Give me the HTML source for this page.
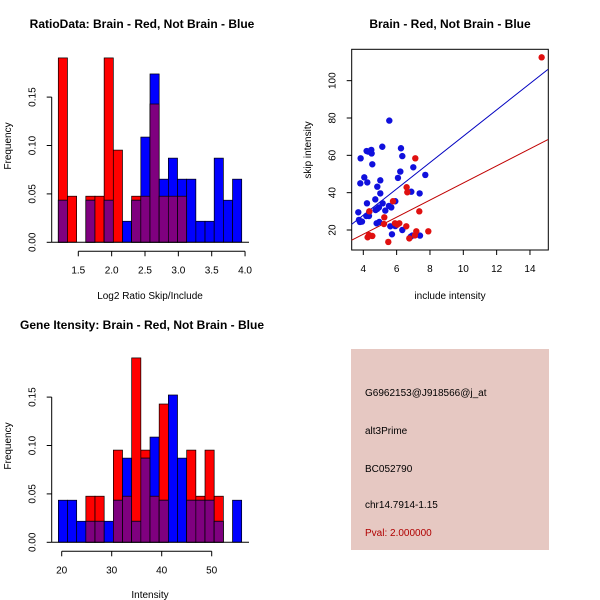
<!DOCTYPE html>
<html><head><meta charset="utf-8"><style>
body{margin:0;background:#fff}
svg{display:block;font-family:"Liberation Sans",Arial,sans-serif}
</style></head><body>
<svg id="c" width="600" height="600" viewBox="0 0 600 600" xmlns="http://www.w3.org/2000/svg">
<text x="142" y="28" font-size="12" font-weight="bold" text-anchor="middle">RatioData: Brain - Red, Not Brain - Blue</text>
<text x="450" y="28" font-size="12" font-weight="bold" text-anchor="middle">Brain - Red, Not Brain - Blue</text>
<text x="142" y="329" font-size="12" font-weight="bold" text-anchor="middle">Gene Itensity: Brain - Red, Not Brain - Blue</text>
<text x="150" y="299" font-size="10" text-anchor="middle">Log2 Ratio Skip/Include</text>
<text transform="translate(11,146) rotate(-90)" font-size="10" text-anchor="middle">Frequency</text>
<text x="150" y="598" font-size="10" text-anchor="middle">Intensity</text>
<text transform="translate(11,446) rotate(-90)" font-size="10" text-anchor="middle">Frequency</text>
<text x="450" y="299" font-size="10" text-anchor="middle">include intensity</text>
<text transform="translate(311,150) rotate(-90)" font-size="10" text-anchor="middle">skip intensity</text>
<g>
<rect x="351" y="349" width="198" height="201" fill="#e6c8c2"/>
<text x="365" y="396" font-size="10">G6962153@J918566@j_at</text>
<text x="365" y="434" font-size="10">alt3Prime</text>
<text x="365" y="472" font-size="10">BC052790</text>
<text x="365" y="508" font-size="10">chr14.7914-1.15</text>
<text x="365" y="536" font-size="10" fill="#b00000">Pval: 2.000000</text>
</g>
<g id="h1"></g><g id="h2"></g><g id="sc"></g>
</svg>
<script>
// Ratio histogram (counts per bin; red n=21, blue n=46)
const ratioRed  = [4,1,0,1,1,4,2,0,1,1,3,1,1,1,0,0,0,0,0,0];
const ratioBlue = [2,0,0,2,0,2,0,1,2,5,8,3,4,3,3,1,1,4,2,3];
const ratioTicks = [1.5,2.0,2.5,3.0,3.5,4.0];
// Intensity histogram
const intRed  = [0,0,0,1,1,0,2,1,4,2,1,3,0,0,2,1,2,1,0,0];
const intBlue = [2,2,1,1,1,1,2,4,1,4,5,2,7,4,2,2,2,1,0,2];
const intTicks = [20,30,40,50];
const freqTicks = [0.00,0.05,0.10,0.15];
// Scatter
const blueX=[3.84,4.48,4.3,4.5,4.2,5.14,5.56,6.26,6.34,4.54,4.06,3.82,4.24,4.84,5.02,6.22,6.08,7.0,7.72,5.02,6.88,7.38,4.72,4.22,5.16,5.92,5.54,5.68,4.94,4.84,4.74,5.32,4.36,3.7,4.18,4.34,3.74,3.92,3.8,4.96,4.8,5.62,5.92,5.92,6.34,5.72,6.94,7.4,6.84];
const blueY=[58.4,62.9,62,61,62.3,64.6,78.6,63.8,59.6,55.2,48.2,45,45.5,43.2,46.6,51.3,47.9,53.6,49.5,39.6,40.5,39.6,36.4,34.3,34.3,35.4,32.9,32.1,32.1,31.3,30.7,30.4,29.8,29.5,27.5,27.5,25.4,24.5,24.3,24.3,23.6,22,22.9,22.1,20,17.7,17,17,16.4];
const redX=[14.7,7.12,6.6,6.64,5.78,7.36,4.36,5.26,5.24,5.9,6.04,6.58,7.18,7.9,7.1,6.76,4.34,4.54,4.26,5.5,6.16];
const redY=[112.5,58.4,42.9,40.2,35.4,30,30,26.8,23.2,23.6,22.9,22,19.3,19.3,17.1,15.5,17.3,16.8,16.1,13.6,23.6];
const fitBlue=[-0.26,7.05], fitRed=[-0.6,4.58];
const sxTicks=[4,6,8,10,12,14], syTicks=[20,40,60,80,100];

const NS="http://www.w3.org/2000/svg";
function mk(p,t,a){const e=document.createElementNS(NS,t);for(const k in a)e.setAttribute(k,a[k]);p.appendChild(e);return e;}

function hist(g,red,blue,x0v,bw,xS,y0,ticks,name){
  const yS=v=>y0-v*968;
  const nr=red.reduce((a,b)=>a+b,0), nb=blue.reduce((a,b)=>a+b,0);
  const ax=51.7;
  for(let i=0;i<red.length;i++){
    const fr=red[i]/nr, fb=blue[i]/nb;
    const xa=xS(x0v+i*bw), xb=xS(x0v+(i+1)*bw);
    if(fr>0){const r=mk(g,'rect',{x:xa,y:yS(fr),width:xb-xa,height:y0-yS(fr),fill:'#ff0000',stroke:'#000','stroke-width':0.7});
      
      }
    if(fb>0){const r=mk(g,'rect',{x:xa,y:yS(fb),width:xb-xa,height:y0-yS(fb),fill:'#0000ff',stroke:'#000','stroke-width':0.7});
      
      }
    const m=Math.min(fr,fb);
    if(m>0){const r=mk(g,'rect',{x:xa,y:yS(m),width:xb-xa,height:y0-yS(m),fill:'#7f007f',stroke:'#000','stroke-width':0.7});
      
      }
  }
  mk(g,'line',{x1:ax,x2:249,y1:y0,y2:y0,stroke:'#000'});
  mk(g,'line',{x1:ax,x2:ax,y1:yS(0),y2:yS(0.15),stroke:'#000'});
  freqTicks.forEach(v=>{const y=yS(v);mk(g,'line',{x1:ax-5,x2:ax,y1:y,y2:y,stroke:'#000'});
    const t=mk(g,'text',{transform:`translate(${ax-16},${y}) rotate(-90)`,'font-size':10,'text-anchor':'middle'});t.textContent=v.toFixed(2);
    
    });
  const xa=y0+9;
  mk(g,'line',{x1:xS(ticks[0]),x2:xS(ticks[ticks.length-1]),y1:xa,y2:xa,stroke:'#000'});
  ticks.forEach(v=>{const x=xS(v);mk(g,'line',{x1:x,x2:x,y1:xa,y2:xa+5,stroke:'#000'});
    const t=mk(g,'text',{x:x,y:xa+22,'font-size':10,'text-anchor':'middle'});t.textContent=Number.isInteger(v)&&v>=10?v:v.toFixed(1);
    
    });
}
hist(document.getElementById('h1'),ratioRed,ratioBlue,1.2,0.1375,v=>78.3+(v-1.5)*66.7,242.3,ratioTicks,'ratio');
hist(document.getElementById('h2'),intRed,intBlue,19.33,1.8333,v=>61.7+(v-20)*5,542.3,intTicks,'intensity');

(function(){
  const g=document.getElementById('sc');
  const X=v=>363.3+(v-4)*16.667, Y=v=>230-(v-20)*1.8667;
  const L=351.7,R=548.3,T=49.3,B=250;
  mk(g,'rect',{x:L,y:T,width:R-L,height:B-T,fill:'none',stroke:'#000'});
  sxTicks.forEach(v=>{const x=X(v);mk(g,'line',{x1:x,x2:x,y1:B,y2:B+5,stroke:'#000'});
    const t=mk(g,'text',{x:x,y:B+22,'font-size':10,'text-anchor':'middle'});t.textContent=v;
    
    });
  syTicks.forEach(v=>{const y=Y(v);mk(g,'line',{x1:L-5,x2:L,y1:y,y2:y,stroke:'#000'});
    const t=mk(g,'text',{transform:`translate(${L-16},${y}) rotate(-90)`,'font-size':10,'text-anchor':'middle'});t.textContent=v;
    
    });
  const x0=3.3,x1=15.08;
  const lb=mk(g,'line',{x1:X(x0),y1:Y(fitBlue[0]+fitBlue[1]*x0),x2:X(x1),y2:Y(fitBlue[0]+fitBlue[1]*x1),stroke:'#0000c0'});
  
  
  const lr=mk(g,'line',{x1:X(x0),y1:Y(fitRed[0]+fitRed[1]*x0),x2:X(x1),y2:Y(fitRed[0]+fitRed[1]*x1),stroke:'#c00000'});
  
  
  blueX.forEach((v,i)=>{const c=mk(g,'circle',{cx:X(v),cy:Y(blueY[i]),r:3.2,fill:'#1010dd'});
    
    });
  redX.forEach((v,i)=>{const c=mk(g,'circle',{cx:X(v),cy:Y(redY[i]),r:3.2,fill:'#e01010'});
    
    });
})();
</script>
</body></html>
